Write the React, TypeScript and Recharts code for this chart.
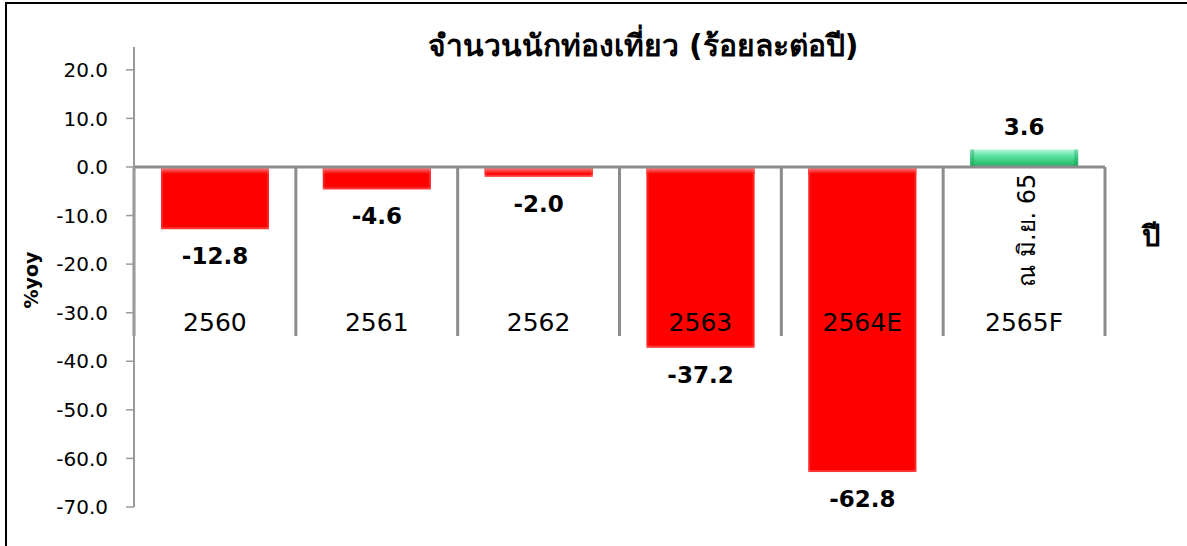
import React from 'react';
import {
  BarChart,
  Bar,
  XAxis,
  YAxis,
  ReferenceLine,
  ReferenceDot,
  LabelList,
} from 'recharts';

// ปี (พ.ศ.) และอัตราการเปลี่ยนแปลงนักท่องเที่ยว %yoy
const years = ['2560', '2561', '2562', '2563', '2564E', '2565F'];
const growth = [-12.8, -4.6, -2.0, -37.2, -62.8, 3.6];
const yTicks = [-70, -60, -50, -40, -30, -20, -10, 0, 10, 20];

const WIDTH = 1187;
const HEIGHT = 546;
const FONT = '"DejaVu Sans", Verdana, sans-serif';
const GRID = '#8c8c8c';

const data = years.map((year, i) => ({ year, pos: i + 0.5, value: growth[i] }));
const edges = years.map((_, i) => i).concat(years.length);

const BevelBar = (props: any) => {
  const { x, y, width, height, value } = props;
  const top = Math.min(y, y + height);
  const h = Math.abs(height);
  if (value >= 0) {
    return (
      <g>
        <rect x={x} y={top} width={width} height={h} fill="url(#greenGrad)" />
        <rect x={x} y={top} width={4} height={h} fill="#0f9a4c" opacity={0.35} />
        <rect x={x + width - 4} y={top} width={4} height={h} fill="#0f9a4c" opacity={0.35} />
      </g>
    );
  }
  return (
    <g>
      <rect x={x} y={top} width={width} height={h} fill="#ff0000" />
      <rect x={x} y={top} width={width} height={Math.min(7, h)} fill="url(#redTop)" />
      <rect x={x} y={top} width={2} height={h} fill="#ff6a6a" opacity={0.3} />
      <rect x={x + width - 2} y={top} width={2} height={h} fill="#ff6a6a" opacity={0.3} />
      <rect x={x} y={top + h - 2} width={width} height={2} fill="#ff8080" opacity={0.4} />
    </g>
  );
};

const ValueLabel = (props: any) => {
  const { x, y, width, height, value } = props;
  const top = Math.min(y, y + height);
  const bottom = Math.max(y, y + height);
  const cy = value >= 0 ? top - 22 : bottom + 27;
  return (
    <text
      x={x + width / 2}
      y={cy}
      textAnchor="middle"
      dominantBaseline="central"
      fontFamily={FONT}
      fontWeight="bold"
      fontSize={23}
      fill="#000"
    >
      {value.toFixed(1)}
    </text>
  );
};

const YearLabel = (props: any) => {
  const { viewBox, value } = props;
  return (
    <text
      x={viewBox.x}
      y={viewBox.y}
      textAnchor="middle"
      dominantBaseline="central"
      fontFamily={FONT}
      fontSize={25}
      fill="#000"
    >
      {value}
    </text>
  );
};

const NoteLabel = (props: any) => {
  const { viewBox } = props;
  return (
    <text
      x={viewBox.x + 3}
      y={viewBox.y}
      transform={`rotate(-90 ${viewBox.x + 3} ${viewBox.y})`}
      textAnchor="middle"
      dominantBaseline="central"
      fontFamily={FONT}
      fontSize={24}
      fill="#000"
    >
      ณ มิ.ย. 65
    </text>
  );
};

export default function App() {
  return (
    <div style={{ position: 'absolute', left: 0, top: 0, width: WIDTH, height: HEIGHT, background: '#fff' }}>
      <BarChart
        width={WIDTH}
        height={HEIGHT}
        data={data}
        margin={{ top: 47, right: 82, bottom: 39, left: 54 }}
      >
        <defs>
          <linearGradient id="redTop" x1="0" y1="0" x2="0" y2="1">
            <stop offset="0%" stopColor="#ff9090" />
            <stop offset="100%" stopColor="#ff0000" />
          </linearGradient>
          <linearGradient id="greenGrad" x1="0" y1="0" x2="0" y2="1">
            <stop offset="0%" stopColor="#b4f8dc" />
            <stop offset="35%" stopColor="#5fe3a3" />
            <stop offset="100%" stopColor="#1cb25c" />
          </linearGradient>
        </defs>
        <XAxis type="number" dataKey="pos" domain={[0, years.length]} hide />
        <YAxis
          type="number"
          domain={[-70, 24.7]}
          ticks={yTicks}
          interval={0}
          width={80}
          tickFormatter={(v: number) => v.toFixed(1)}
          tick={{ fontSize: 20, fill: '#000', fontFamily: FONT }}
          tickSize={8}
          tickMargin={18}
          tickLine={{ stroke: '#9a9a9a', strokeWidth: 1.5 }}
          axisLine={{ stroke: '#9a9a9a', strokeWidth: 2 }}
        />
        <ReferenceLine y={0} stroke={GRID} strokeWidth={3} />
        {edges.map((e) => (
          <ReferenceLine
            key={`edge-${e}`}
            segment={[{ x: e, y: 0 }, { x: e, y: -34.8 }]}
            stroke={GRID}
            strokeWidth={3}
          />
        ))}
        <Bar dataKey="value" barSize={108} shape={<BevelBar />} isAnimationActive={false}>
          <LabelList dataKey="value" content={<ValueLabel />} />
        </Bar>
        {data.map((d) => (
          <ReferenceDot
            key={`year-${d.year}`}
            x={d.pos}
            y={-32}
            r={0}
            stroke="none"
            fill="none"
            label={<YearLabel value={d.year} />}
          />
        ))}
        <ReferenceDot
          x={data[data.length - 1].pos}
          y={-13}
          r={0}
          stroke="none"
          fill="none"
          label={<NoteLabel />}
        />
      </BarChart>
      <svg
        width={WIDTH}
        height={HEIGHT}
        style={{ position: 'absolute', left: 0, top: 0, pointerEvents: 'none' }}
      >
        <line x1={5} y1={3} x2={WIDTH} y2={3} stroke="#000" strokeWidth={2} />
        <line x1={6} y1={2} x2={6} y2={HEIGHT} stroke="#000" strokeWidth={2} />
        <text
          x={643}
          y={45}
          textAnchor="middle"
          dominantBaseline="central"
          fontFamily={FONT}
          fontWeight="bold"
          fontSize={30}
          fill="#000"
        >
          จำนวนนักท่องเที่ยว (ร้อยละต่อปี)
        </text>
        <text
          x={31}
          y={280}
          transform="rotate(-90 31 280)"
          textAnchor="middle"
          dominantBaseline="central"
          fontFamily={FONT}
          fontWeight="bold"
          fontSize={19}
          fill="#000"
        >
          %yoy
        </text>
        <text
          x={1151}
          y={236}
          textAnchor="middle"
          dominantBaseline="central"
          fontFamily={FONT}
          fontWeight="bold"
          fontSize={29}
          fill="#000"
        >
          ปี
        </text>
      </svg>
    </div>
  );
}
